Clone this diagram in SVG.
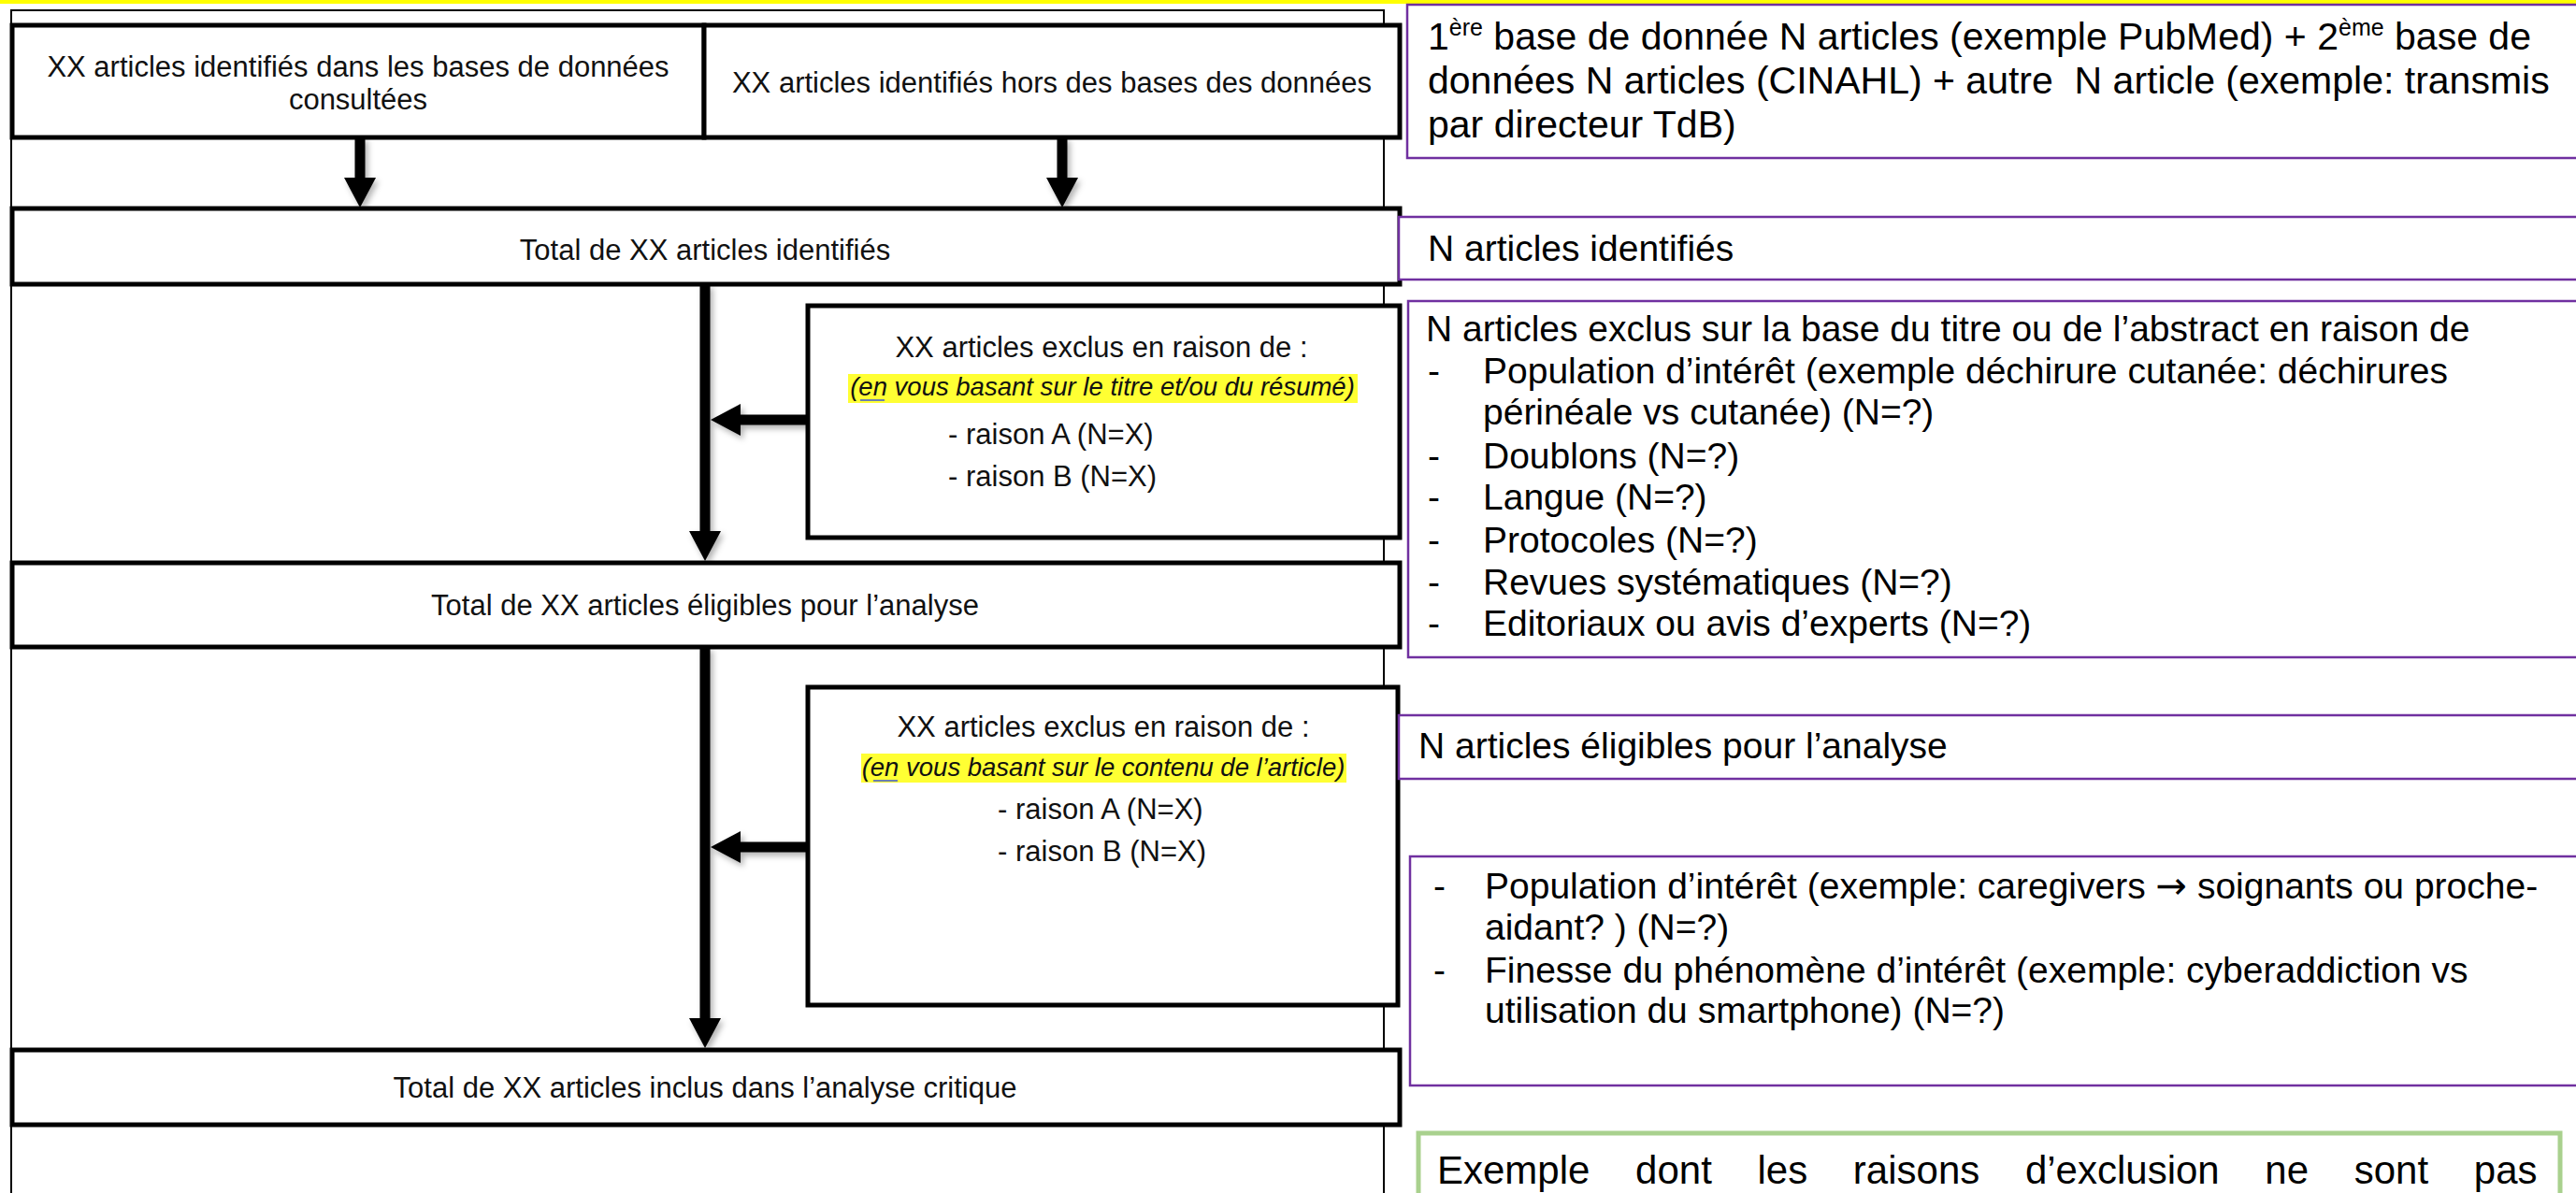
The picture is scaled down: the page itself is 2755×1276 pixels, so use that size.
<svg xmlns="http://www.w3.org/2000/svg" width="2755" height="1276" viewBox="0 0 2755 1276">
<defs>
<style>
.bg{fill:#ffffff}
.frame{fill:none;stroke:#000;stroke-width:2}
.box{fill:#fff;stroke:#000;stroke-width:5}
.pbox{fill:#fff;stroke:#7030a0;stroke-width:2.5}
.gbox{fill:#fff;stroke:#a9d18e;stroke-width:5}
.lt{font-family:"Liberation Sans",Arial,sans-serif;font-size:31px;fill:#111}
.it{font-family:"Liberation Sans",Arial,sans-serif;font-size:27.5px;font-style:italic;fill:#111}
.rt{font-family:"Liberation Sans",Arial,sans-serif;font-size:39px;fill:#000}
.rt1{font-family:"Liberation Sans",Arial,sans-serif;font-size:41px;fill:#000}
.gt{font-family:"Liberation Sans",Arial,sans-serif;font-size:42px;fill:#000;word-spacing:37px}
.arw{font-family:"DejaVu Sans",sans-serif}
.mid{text-anchor:middle}
.hl{fill:#ffff33}
.shaft{stroke:#000;stroke-width:11;fill:none}
</style>
<marker id="ah" markerUnits="userSpaceOnUse" markerWidth="32" markerHeight="34" refX="0" refY="17" orient="auto" viewBox="0 0 32 34">
<path d="M0,0 L32,17 L0,34 z" fill="#000"/>
</marker>
<filter id="sh" x="-20%" y="-20%" width="140%" height="140%">
<feDropShadow dx="3" dy="4" stdDeviation="3" flood-color="#000" flood-opacity="0.3"/>
</filter>
</defs>
<rect class="bg" x="0" y="0" width="2755" height="1276"/>
<rect x="0" y="0" width="2755" height="4" fill="#ffff00"/>

<g id="frame">
<path class="frame" d="M12,1280 L12,11 L1480,11 L1480,1280"/>
</g>

<g id="connectors" filter="url(#sh)">
<line class="shaft" x1="385" y1="147" x2="385" y2="190" marker-end="url(#ah)"/>
<line class="shaft" x1="1136" y1="147" x2="1136" y2="190" marker-end="url(#ah)"/>
<line class="shaft" x1="754" y1="304" x2="754" y2="568" marker-end="url(#ah)"/>
<line class="shaft" x1="864" y1="449" x2="792" y2="449" marker-end="url(#ah)"/>
<line class="shaft" x1="754" y1="692" x2="754" y2="1089" marker-end="url(#ah)"/>
<line class="shaft" x1="864" y1="906" x2="792" y2="906" marker-end="url(#ah)"/>
</g>

<g id="n-db">
<rect class="box" x="13" y="27" width="740" height="120"/>
<text class="lt mid" x="383" y="82">XX articles identifiés dans les bases de données</text>
<text class="lt mid" x="383" y="117">consultées</text>
</g>
<g id="n-hors">
<rect class="box" x="753" y="27" width="744" height="120"/>
<text class="lt mid" x="1125" y="99">XX articles identifiés hors des bases des données</text>
</g>
<g id="n-total">
<rect class="box" x="13" y="223" width="1484" height="81"/>
<text class="lt mid" x="754" y="278">Total de XX articles identifiés</text>
</g>
<g id="n-excl1">
<rect class="box" x="864" y="327" width="633" height="248"/>
<text class="lt mid" x="1178" y="382">XX articles exclus en raison de :</text>
<rect class="hl" x="907" y="400" width="545" height="31"/>
<text class="it mid" x="1179" y="423">(en vous basant sur le titre et/ou du résumé)</text>
<line x1="920" y1="428" x2="946" y2="428" stroke="#6b7fb0" stroke-width="2"/>
<text class="lt" x="1014" y="475">- raison A (N=X)</text>
<text class="lt" x="1014" y="520">- raison B (N=X)</text>
</g>
<g id="n-elig">
<rect class="box" x="13" y="602" width="1484" height="90"/>
<text class="lt mid" x="754" y="658">Total de XX articles éligibles pour l’analyse</text>
</g>
<g id="n-excl2">
<rect class="box" x="864" y="735" width="631" height="340"/>
<text class="lt mid" x="1180" y="788">XX articles exclus en raison de :</text>
<rect class="hl" x="921" y="806" width="519" height="31"/>
<text class="it mid" x="1180" y="830">(en vous basant sur le contenu de l’article)</text>
<line x1="934" y1="835" x2="960" y2="835" stroke="#6b7fb0" stroke-width="2"/>
<text class="lt" x="1067" y="876">- raison A (N=X)</text>
<text class="lt" x="1067" y="921">- raison B (N=X)</text>
</g>
<g id="n-inclus">
<rect class="box" x="13" y="1123" width="1484" height="80"/>
<text class="lt mid" x="754" y="1174">Total de XX articles inclus dans l’analyse critique</text>
</g>

<g id="c-bases">
<rect class="pbox" x="1505" y="5" width="1260" height="164"/>
<text class="rt1" x="1527" y="53">1<tspan dy="-15" font-size="25">ère</tspan><tspan dy="15"> base de donnée N articles (exemple PubMed) + 2</tspan><tspan dy="-15" font-size="25">ème</tspan><tspan dy="15"> base de</tspan></text>
<text class="rt1" x="1527" y="100">données N articles (CINAHL) + autre&#160; N article (exemple: transmis</text>
<text class="rt1" x="1527" y="147">par directeur TdB)</text>
</g>
<g id="c-ident">
<rect class="pbox" x="1496" y="232" width="1270" height="67"/>
<text class="rt" x="1527" y="279">N articles identifiés</text>
</g>
<g id="c-excl1">
<rect class="pbox" x="1506" y="322" width="1260" height="381"/>
<text class="rt" x="1525" y="365">N articles exclus sur la base du titre ou de l’abstract en raison de</text>
<text class="rt" x="1527" y="410">-</text><text class="rt" x="1586" y="410">Population d’intérêt (exemple déchirure cutanée: déchirures</text>
<text class="rt" x="1586" y="454">périnéale vs cutanée) (N=?)</text>
<text class="rt" x="1527" y="501">-</text><text class="rt" x="1586" y="501">Doublons (N=?)</text>
<text class="rt" x="1527" y="545">-</text><text class="rt" x="1586" y="545">Langue (N=?)</text>
<text class="rt" x="1527" y="591">-</text><text class="rt" x="1586" y="591">Protocoles (N=?)</text>
<text class="rt" x="1527" y="636">-</text><text class="rt" x="1586" y="636">Revues systématiques (N=?)</text>
<text class="rt" x="1527" y="680">-</text><text class="rt" x="1586" y="680">Editoriaux ou avis d’experts (N=?)</text>
</g>
<g id="c-elig">
<rect class="pbox" x="1496" y="765" width="1270" height="68"/>
<text class="rt" x="1517" y="811" font-size="41">N articles éligibles pour l’analyse</text>
</g>
<g id="c-excl2">
<rect class="pbox" x="1508" y="916" width="1260" height="245"/>
<text class="rt" x="1533" y="961">-</text><text class="rt" x="1588" y="961">Population d’intérêt (exemple: caregivers <tspan class="arw" font-size="40">→</tspan> soignants ou proche-</text>
<text class="rt" x="1588" y="1005">aidant? ) (N=?)</text>
<text class="rt" x="1533" y="1051">-</text><text class="rt" x="1588" y="1051">Finesse du phénomène d’intérêt (exemple: cyberaddiction vs</text>
<text class="rt" x="1588" y="1094">utilisation du smartphone) (N=?)</text>
</g>
<g id="c-exemple">
<rect class="gbox" x="1517" y="1212" width="1221" height="200"/>
<text class="gt" x="1537" y="1266">Exemple dont les raisons d’exclusion ne sont pas</text>
</g>
</svg>
